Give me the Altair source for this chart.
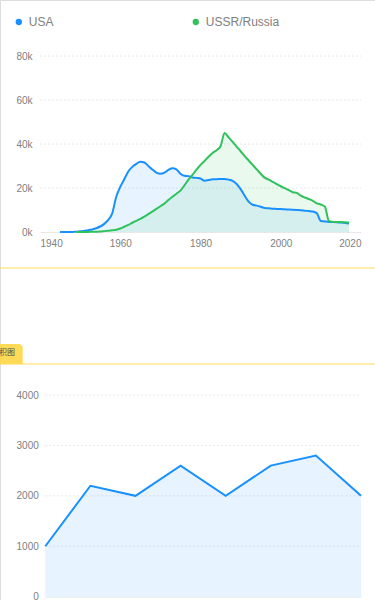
import altair as alt
import pandas as pd

# ---------------- data: top chart (nuclear warhead stockpiles) ----------------
series_names = ["USA", "USSR/Russia"]
series_colors = ["#1890FF", "#2FC25B"]

usa_years = list(range(1945, 2018))
usa_values = [
    20, 10, 30, 50, 170, 300, 440, 840, 1170, 1700,            # 1945-1954
    2500, 3700, 5500, 8500, 16000, 20500, 24000, 27500, 29600, 31000,  # 1955-1964
    31900, 31600, 30000, 28400, 27000, 26500, 27000, 28200, 29000, 28500,  # 1965-1974
    26500, 25600, 25400, 24800, 24600, 24300, 23300, 23600, 24000, 24000,  # 1975-1984
    24100, 24100, 23800, 23200, 21800, 19500, 16500, 13800, 12400, 12000,  # 1985-1994
    11500, 10900, 10800, 10600, 10500, 10400, 10300, 10200, 10100, 10000,  # 1995-2004
    9900, 9700, 9500, 9300, 8500, 5000, 4800, 4600, 4500, 4400,            # 2005-2014
    4300, 4100, 3900,                                                      # 2015-2017
]

ussr_years = list(range(1949, 2018))
ussr_values = [
    1, 5, 25, 50, 120, 150, 200, 400, 600, 800,                            # 1949-1958
    1000, 1600, 2400, 3200, 4200, 5100, 6000, 7000, 8100, 9300,            # 1959-1968
    10500, 11700, 12900, 14500, 16000, 17400, 18800, 21200, 23800, 26000,  # 1969-1978
    28300, 30500, 32300, 34200, 35900, 37200, 39000, 45000, 43000, 41000,  # 1979-1988
    38800, 36700, 34500, 32500, 30500, 28500, 26500, 24700, 23800, 22800,  # 1989-1998
    21800, 20800, 19900, 19000, 18100, 17800, 16500, 15700, 15000, 14200,  # 1999-2008
    13000, 12500, 11500, 5000, 4600, 4500, 4500, 4400, 4300,               # 2009-2017
]

top_x_ticks = [1940, 1960, 1980, 2000, 2020]
top_y_ticks = [0, 20000, 40000, 60000, 80000]

# ---------------- data: bottom chart (basic area) ----------------
months = ["Jan.", "Feb.", "Mar.", "Apr.", "May.", "Jun.", "Jul.", "Aug."]
month_values = [1000, 2200, 2000, 2600, 2000, 2600, 2800, 2000]
bottom_y_ticks = [0, 1000, 2000, 3000, 4000]

tab_labels = ["面积图"]

# ---------------- styling ----------------
GRID = "#E8E8E8"
LABEL = "#808080"
YELLOW = "#FFDA57"
FONT = "Helvetica Neue, Helvetica, Arial, Liberation Sans, sans-serif"

top_df = pd.DataFrame({
    "year": usa_years + ussr_years,
    "country": [series_names[0]] * len(usa_years) + [series_names[1]] * len(ussr_years),
    "value": usa_values + ussr_values,
})
bot_df = pd.DataFrame({"month": months, "value": month_values})

top_x = alt.Scale(domain=[1940, 2020], range=[40, 361], nice=False, zero=False)
top_y = alt.Scale(domain=[0, 80000], range=[232, 56], nice=False)
bot_x = alt.Scale(type="point", domain=months, range=[45.3, 361], padding=0)
bot_y = alt.Scale(domain=[0, 4000], range=[596.7, 395], nice=False)
color_scale = alt.Scale(domain=series_names, range=series_colors)

legend = alt.Legend(
    orient="none", legendX=12.8, legendY=16, direction="horizontal", title=None,
    symbolType="circle", symbolSize=40, symbolStrokeWidth=0, symbolOpacity=1,
    labelFontSize=12, labelColor=LABEL, labelFont=FONT, labelOffset=4,
    columnPadding=136, padding=0,
)

# grid lines (dashed) of top chart
grid_top = alt.Chart(pd.DataFrame({"v": top_y_ticks[1:]})).mark_rule(
    color=GRID, strokeDash=[2, 2], strokeWidth=1
).encode(y=alt.Y("v:Q", scale=top_y, axis=None), x=alt.value(40), x2=alt.value(361))

area_top = alt.Chart(top_df).mark_area(fillOpacity=0.1, interpolate="monotone").encode(
    x=alt.X("year:Q", scale=top_x, axis=alt.Axis(
        orient="bottom", offset=-368, values=top_x_ticks, format="d", labelFlush=True,
        domainColor=GRID, ticks=False, grid=False, labelColor=LABEL, labelFontSize=10,
        labelFont=FONT, labelPadding=6, title=None)),
    y=alt.Y("value:Q", stack=None, scale=top_y, axis=alt.Axis(
        orient="left", offset=-40, values=top_y_ticks, labelExpr="datum.value / 1000 + 'k'",
        domain=False, ticks=False, grid=False, labelColor=LABEL, labelFontSize=10,
        labelFont=FONT, labelPadding=8, title=None)),
    color=alt.Color("country:N", scale=color_scale, legend=legend),
)

line_top = alt.Chart(top_df).mark_line(strokeWidth=2, interpolate="monotone").encode(
    x=alt.X("year:Q", scale=top_x, axis=None),
    y=alt.Y("value:Q", scale=top_y, axis=None),
    color=alt.Color("country:N", scale=color_scale, legend=legend),
)

# bottom chart
grid_bot = alt.Chart(pd.DataFrame({"v": bottom_y_ticks[1:]})).mark_rule(
    color=GRID, strokeDash=[2, 2], strokeWidth=1
).encode(y=alt.Y("v:Q", scale=bot_y, axis=None), x=alt.value(45.3), x2=alt.value(361))

area_bot = alt.Chart(bot_df).mark_area(color="#1890FF", fillOpacity=0.1).encode(
    x=alt.X("month:O", scale=bot_x, axis=alt.Axis(
        orient="bottom", offset=-3.3, domainColor=GRID, ticks=False, grid=False,
        labels=False, title=None)),
    y=alt.Y("value:Q", scale=bot_y, axis=alt.Axis(
        orient="left", offset=-45.3, values=bottom_y_ticks, format="d", domain=False,
        ticks=False, grid=False, labelColor=LABEL, labelFontSize=10, labelFont=FONT,
        labelPadding=7, title=None)),
)

line_bot = alt.Chart(bot_df).mark_line(color="#1890FF", strokeWidth=2).encode(
    x=alt.X("month:O", scale=bot_x, axis=None),
    y=alt.Y("value:Q", scale=bot_y, axis=None),
)

# page decorations: divider lines and tab
one = pd.DataFrame({"t": tab_labels})
rule_a = alt.Chart(one).mark_rule(color=YELLOW, strokeWidth=1).encode(
    x=alt.value(0), x2=alt.value(375), y=alt.value(268))
rule_b = alt.Chart(one).mark_rule(color=YELLOW, strokeWidth=1).encode(
    x=alt.value(0), x2=alt.value(375), y=alt.value(364))
tab = alt.Chart(one).mark_rect(color=YELLOW, cornerRadiusTopRight=4).encode(
    x=alt.value(-10), x2=alt.value(22.7), y=alt.value(344), y2=alt.value(364))
tab_text = alt.Chart(one).mark_text(
    align="right", baseline="middle", font="Noto Sans CJK SC", fontSize=8, color="#4A4A4A"
).encode(text="t:N", x=alt.value(15), y=alt.value(353))

chart = alt.layer(
    grid_top, area_top, line_top, grid_bot, area_bot, line_bot,
    rule_a, rule_b, tab, tab_text,
).resolve_scale(x="independent", y="independent").properties(
    width=375, height=600, padding=0, autosize=alt.AutoSizeParams(type="none"),
).configure_view(stroke=None).configure(font=FONT, background="white")

chart.save("out.html", embed_options={"renderer": "svg", "actions": False})
